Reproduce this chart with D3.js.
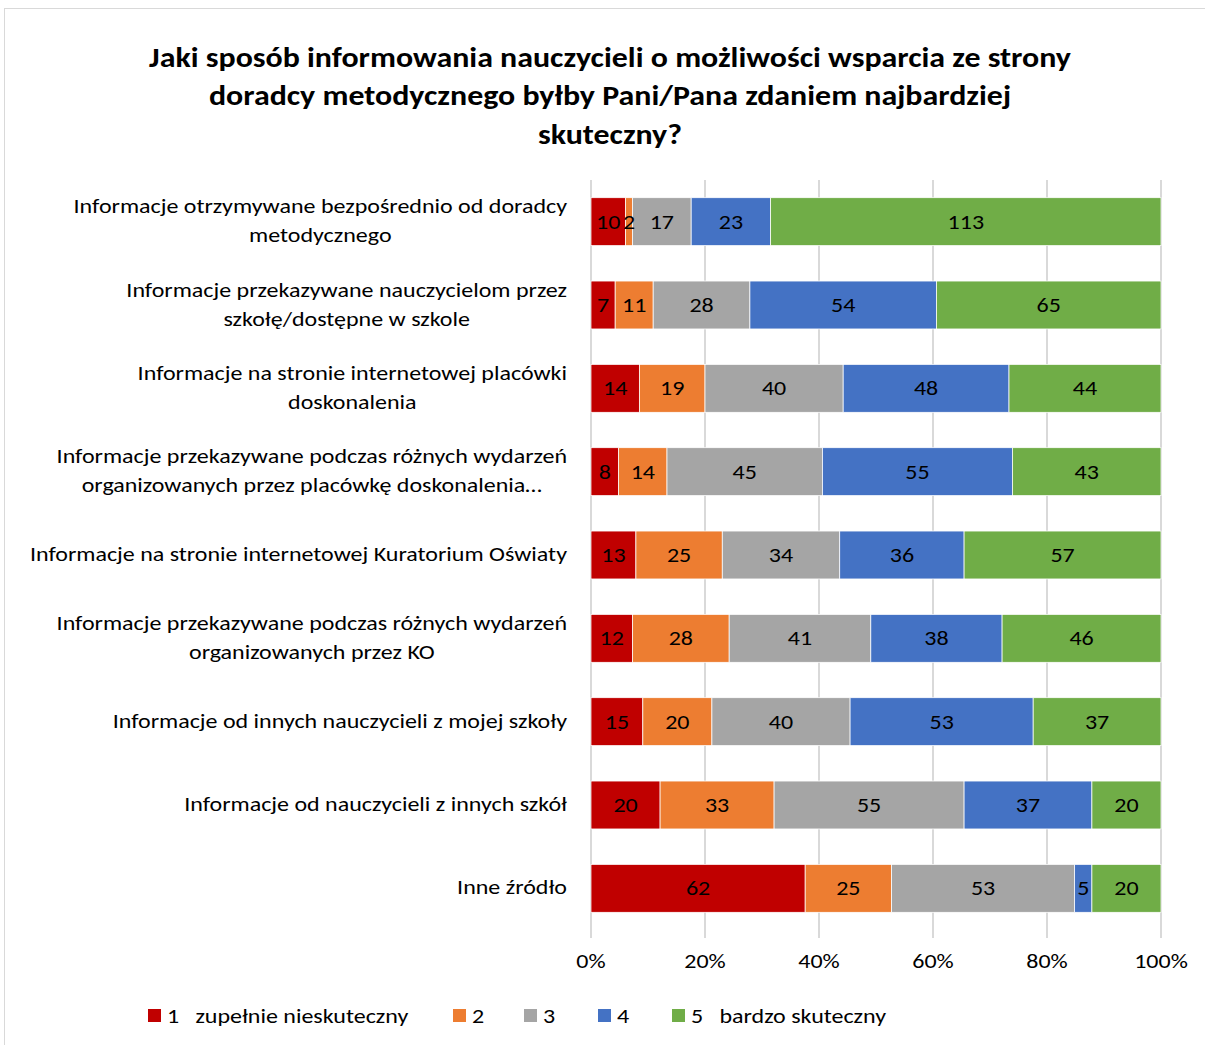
<!DOCTYPE html>
<html><head><meta charset="utf-8">
<script src="https://cdn.jsdelivr.net/npm/d3@7"></script>
<style>
html,body{margin:0;padding:0;background:#fff;}
svg{display:block;font-family:Carlito,Calibri,Lato,"Open Sans",sans-serif;}
</style></head>
<body><svg id="c" width="1205" height="1045"></svg>
<script>
const categories = [
  ["Informacje otrzymywane bezpośrednio od doradcy","metodycznego"],
  ["Informacje przekazywane nauczycielom przez","szkołę/dostępne w szkole"],
  ["Informacje na stronie internetowej placówki","doskonalenia"],
  ["Informacje przekazywane podczas różnych wydarzeń","organizowanych przez placówkę doskonalenia…"],
  ["Informacje na stronie internetowej Kuratorium Oświaty"],
  ["Informacje przekazywane podczas różnych wydarzeń","organizowanych przez KO"],
  ["Informacje od innych nauczycieli z mojej szkoły"],
  ["Informacje od nauczycieli z innych szkół"],
  ["Inne źródło"]
];
const seriesNames = ["1   zupełnie nieskuteczny","2","3","4","5   bardzo skuteczny"];
const s1 = [10,7,14,8,13,12,15,20,62];
const s2 = [2,11,19,14,25,28,20,33,25];
const s3 = [17,28,40,45,34,41,40,55,53];
const s4 = [23,54,48,55,36,38,53,37,5];
const s5 = [113,65,44,43,57,46,37,20,20];
const colors = ["#C00000","#ED7D31","#A5A5A5","#4472C4","#70AD47"];
const tickValues = [0,0.2,0.4,0.6,0.8,1];
const titleLines = ["Jaki sposób informowania nauczycieli o możliwości wsparcia ze strony","doradcy metodycznego byłby Pani/Pana zdaniem najbardziej","skuteczny?"];

const SX = 1.2;
const series = [s1,s2,s3,s4,s5];
const svg = d3.select("#c");

// border
svg.append("rect").attr("x",4.5).attr("y",8.5).attr("width",1300).attr("height",1100)
  .attr("fill","none").attr("stroke","#D9D9D9").attr("stroke-width",1);

// title
svg.append("g").attr("transform","translate(610,0) scale(1.14,1)")
  .append("text").attr("text-anchor","middle").attr("font-weight","bold").attr("font-size",28).attr("fill","#000")
  .selectAll("tspan").data(titleLines).join("tspan").attr("x",0).attr("y",(d,i)=>67+i*38.5).text(d=>d);

const x = d3.scaleLinear().domain([0,1]).range([591,1161]);
const y = d3.scaleBand().domain(d3.range(categories.length)).range([180,930]).paddingInner(0.425).paddingOuter(0.2125);

// gridlines
svg.append("g").selectAll("line").data(tickValues).join("line")
  .attr("x1",d=>x(d)).attr("x2",d=>x(d)).attr("y1",180).attr("y2",938)
  .attr("stroke","#D9D9D9").attr("stroke-width",2);

// stacked data
const rows = categories.map((c,i)=>{
  const vals = series.map(s=>s[i]);
  const tot = d3.sum(vals);
  let acc = 0;
  return vals.map((v,k)=>{const o={row:i,k,v,x0:acc/tot,x1:(acc+v)/tot}; acc+=v; return o;});
});
const segs = rows.flat();
svg.append("g").selectAll("rect").data(segs).join("rect")
  .attr("x",d=>x(d.x0)).attr("width",d=>x(d.x1)-x(d.x0))
  .attr("y",d=>y(d.row)).attr("height",y.bandwidth())
  .attr("fill",d=>colors[d.k]).attr("stroke","#fff").attr("stroke-width",0.75);

svg.append("g").selectAll("g").data(segs).join("g")
  .attr("transform",d=>`translate(${(x(d.x0)+x(d.x1))/2},${y(d.row)+y.bandwidth()/2+7}) scale(${SX},1)`)
  .append("text").attr("text-anchor","middle").attr("font-size",20).attr("fill","#000").text(d=>d.v);

// category labels: block right-aligned at 567, lines centered within block
svg.append("g").selectAll("g").data(categories).join("g")
  .attr("transform",(d,i)=>`translate(567,${y(i)+y.bandwidth()/2+6}) scale(${SX},1)`)
  .append("text").attr("text-anchor","middle").attr("font-size",20).attr("fill","#000")
  .each(function(d){
    const n = d.length;
    const t = d3.select(this);
    t.selectAll("tspan").data(d).join("tspan")
      .attr("x",0).attr("y",(s,j)=>(j-(n-1)/2)*29).text(s=>s);
    let w = 0;
    t.selectAll("tspan").each(function(){ w = Math.max(w, this.getComputedTextLength()); });
    t.selectAll("tspan").attr("x",-w/2);
  });

// x axis labels
svg.append("g").selectAll("g").data(tickValues).join("g")
  .attr("transform",d=>`translate(${x(d)},968) scale(${SX},1)`)
  .append("text").attr("text-anchor","middle").attr("font-size",20).attr("fill","#000")
  .text(d=>d3.format(".0%")(d));

// legend
const legX = [148,453,524,598,672];
const lg = svg.append("g").selectAll("g").data(seriesNames).join("g")
  .attr("transform",(d,i)=>`translate(${legX[i]},1009)`);
lg.append("rect").attr("width",13).attr("height",13).attr("fill",(d,i)=>colors[i]);
lg.append("g").attr("transform",`translate(19,14) scale(${SX},1)`)
  .append("text").attr("font-size",20).attr("fill","#000")
  .attr("xml:space","preserve").style("white-space","pre").text(d=>d);
</script></body></html>
